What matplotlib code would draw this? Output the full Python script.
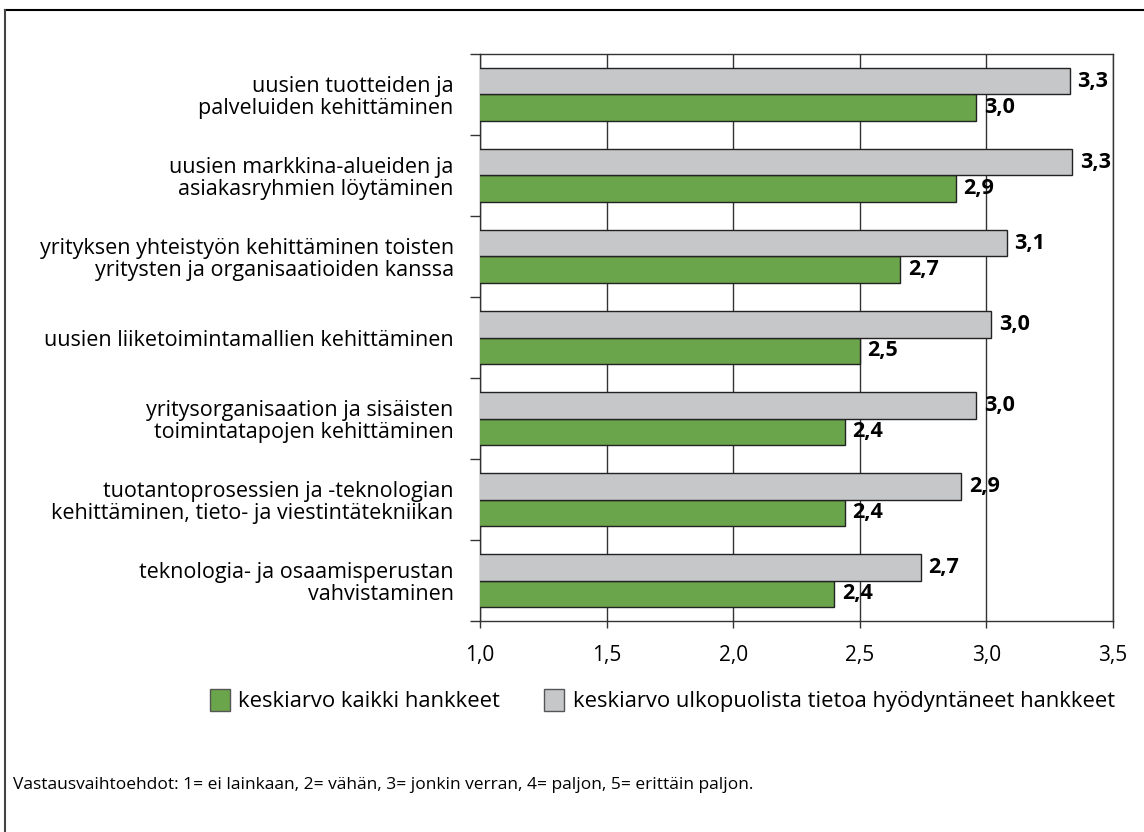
import matplotlib
matplotlib.use("Agg")
import matplotlib.pyplot as plt
from matplotlib.patches import Patch
import numpy as np

categories = [
    "uusien tuotteiden ja\npalveluiden kehittäminen",
    "uusien markkina-alueiden ja\nasiakasryhmien löytäminen",
    "yrityksen yhteistyön kehittäminen toisten\nyritysten ja organisaatioiden kanssa",
    "uusien liiketoimintamallien kehittäminen",
    "yritysorganisaation ja sisäisten\ntoimintatapojen kehittäminen",
    "tuotantoprosessien ja -teknologian\nkehittäminen, tieto- ja viestintätekniikan",
    "teknologia- ja osaamisperustan\nvahvistaminen",
]
kaikki = [2.96, 2.88, 2.66, 2.50, 2.44, 2.44, 2.40]
ulkopuolinen = [3.33, 3.34, 3.08, 3.02, 2.96, 2.90, 2.74]
xticks = [1.0, 1.5, 2.0, 2.5, 3.0, 3.5]

legend_labels = ["keskiarvo kaikki hankkeet",
                 "keskiarvo ulkopuolista tietoa hyödyntäneet hankkeet"]
footnote = ("Vastausvaihtoehdot: 1= ei lainkaan, 2= vähän, 3= jonkin verran, "
            "4= paljon, 5= erittäin paljon.")

GREEN = "#6ba54b"
GRAY = "#c6c7c9"
txt_font = ["Open Sans", "DejaVu Sans"]

def fi(v):
    return f"{v:.1f}".replace(".", ",")

fig = plt.figure(figsize=(11.44, 8.32), dpi=100)
ax = fig.add_axes([0.4196, 0.2536, 0.5533, 0.6815])

n = len(categories)
y = np.arange(n)
h = 0.327
ax.barh(y + h / 2, kaikki, height=h, left=0, color=GREEN,
        edgecolor="#222222", linewidth=1, zorder=3)
ax.barh(y - h / 2, ulkopuolinen, height=h, left=0, color=GRAY,
        edgecolor="#222222", linewidth=1, zorder=3)

for yy, v in zip(y + h / 2, kaikki):
    ax.text(v + 0.03, yy, fi(v), va="center", ha="left", fontsize=15.5,
            fontweight="bold", family=txt_font, zorder=4)
for yy, v in zip(y - h / 2, ulkopuolinen):
    ax.text(v + 0.03, yy, fi(v), va="center", ha="left", fontsize=15.5,
            fontweight="bold", family=txt_font, zorder=4)

ax.set_xlim(1.0, 3.5)
ax.set_ylim(n - 0.5, -0.5)
ax.set_xticks(xticks)
ax.set_xticklabels([fi(v) for v in xticks], family=txt_font, fontsize=15)
ax.xaxis.grid(True, color="#333333", linewidth=1, zorder=0)

# category labels centred between boundary ticks
ax.set_yticks(y)
ax.set_yticklabels(categories, family=txt_font, fontsize=15.5, linespacing=1.05)
ax.tick_params(axis="y", length=0, pad=19)
ax.set_yticks(np.arange(n + 1) - 0.5, minor=True)
ax.tick_params(axis="y", which="minor", length=7, width=1, color="#333333")
ax.tick_params(axis="x", length=5, width=1, color="#333333", pad=12)

for s in ax.spines.values():
    s.set_color("#333333")
    s.set_linewidth(1)

handles = [Patch(facecolor=GREEN, edgecolor="#555555"),
           Patch(facecolor=GRAY, edgecolor="#555555")]
fig.legend(handles, legend_labels, loc="center", bbox_to_anchor=(0.579, 0.158),
           ncol=2, frameon=False, prop={"family": txt_font, "size": 15.8},
           handlelength=0.9, handleheight=1.2, handletextpad=0.4,
           columnspacing=2.0)

fig.text(13 / 1144, 1 - 785 / 832, footnote, family=txt_font, fontsize=12.5,
         va="center", ha="left")

# outer frame (top and left edges)
fig.add_artist(plt.Line2D([4.5 / 1144, 1], [1 - 9.5 / 832, 1 - 9.5 / 832],
                          transform=fig.transFigure, color="black", lw=1.5))
fig.add_artist(plt.Line2D([4.5 / 1144, 4.5 / 1144], [0, 1 - 9.5 / 832],
                          transform=fig.transFigure, color="#444444", lw=1.5))

fig.savefig("out.png", dpi=100, facecolor="white")
